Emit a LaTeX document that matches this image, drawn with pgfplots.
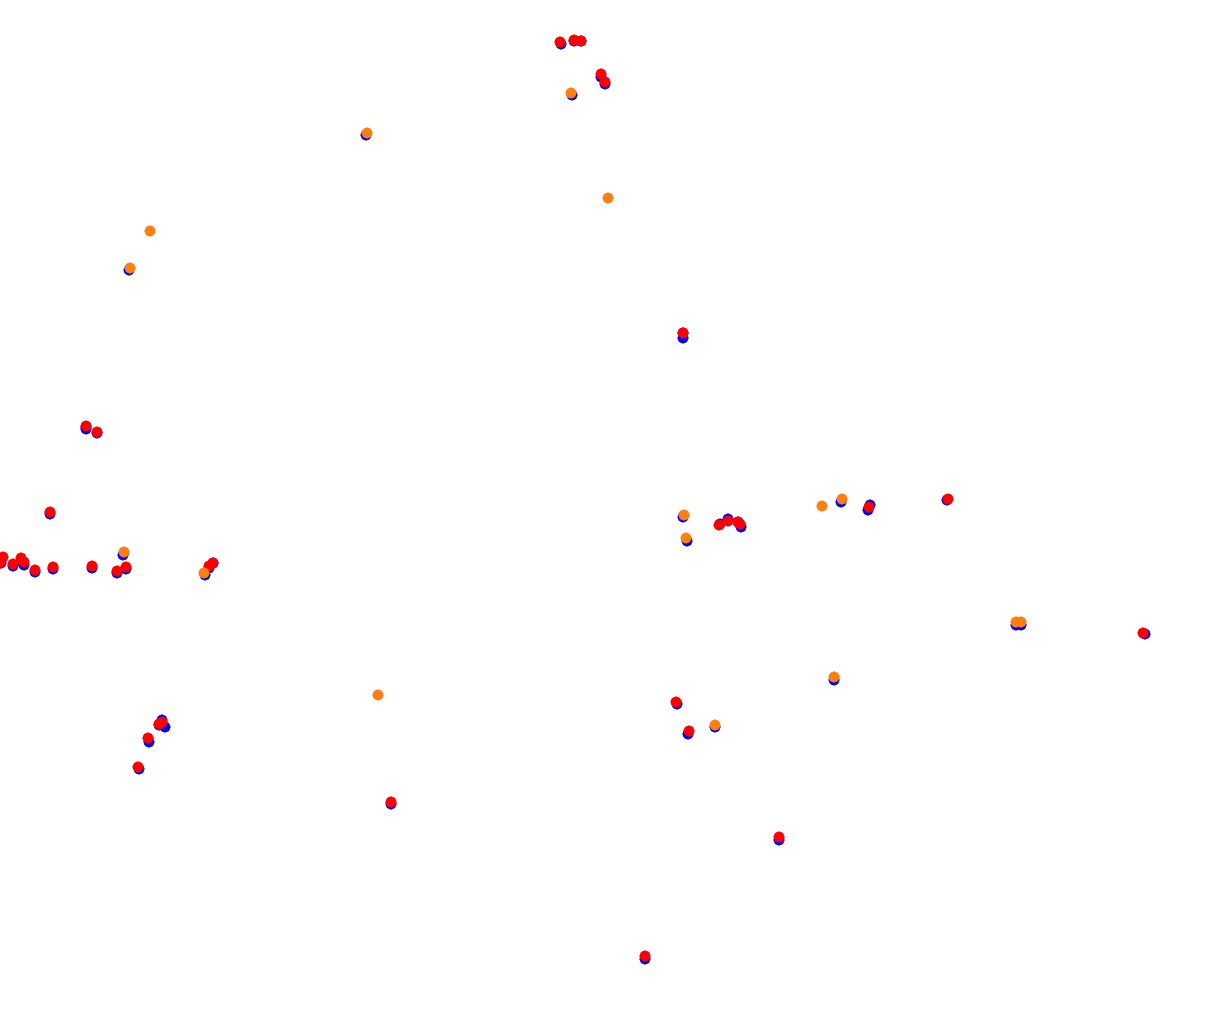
\documentclass[border=0pt]{standalone}
\usepackage{pgfplots}
\pgfplotsset{compat=1.18}
\definecolor{myorange}{RGB}{255,127,14}
\begin{document}
\begin{tikzpicture}
\begin{axis}[
  width=614pt, height=508pt, scale only axis,
  xmin=0, xmax=1228, ymin=0, ymax=1016, y dir=reverse,
  hide axis, clip=true,
]
\addplot[only marks, mark=*, mark size=2.6pt, color=blue, mark options={draw=blue, fill=blue}] coordinates {
(561,44) (574,41) (581,41) (601,77) (605,84) (572,95) (366,135) (129,270)
(683,333) (683,338) (86,427) (86,429) (97,433) (50,514) (1,563) (13,566)
(21,561) (24,565) (35,572) (53,569) (92,568) (117,573) (126,569) (123,555)
(213,563) (209,568) (205,575) (683,517) (687,541) (720,524) (728,519) (738,522)
(741,527) (841,502) (868,510) (870,505) (947,500) (1016,625) (1021,625) (1145,634)
(834,680) (677,704) (715,727) (688,734) (162,720) (159,725) (165,727) (149,742)
(139,769) (391,804) (779,840) (645,959)
};
\addplot[only marks, mark=*, mark size=2.6pt, color=red, mark options={draw=red, fill=red}] coordinates {
(560,42) (574,40) (581,41) (601,74) (605,82) (683,333) (86,426) (97,432)
(50,512) (3,557) (0,563) (13,564) (21,558) (24,562) (35,570) (53,567)
(92,566) (117,571) (126,567) (213,563) (209,566) (719,525) (728,521) (738,522)
(740,524) (869,507) (948,499) (1143,633) (676,702) (689,731) (162,722) (159,724)
(148,738) (138,767) (391,802) (779,837) (645,956)
};
\addplot[only marks, mark=*, mark size=2.6pt, color=myorange, mark options={draw=myorange, fill=myorange}] coordinates {
(571,93) (367,133) (608,198) (150,231) (130,268) (124,552) (204,573) (684,515)
(686,538) (822,506) (842,499) (1016,622) (1021,622) (834,677) (715,725) (378,695)
};
\end{axis}
\pgfresetboundingbox
\path (current axis.south west) rectangle (current axis.north east);
\end{tikzpicture}
\end{document}
